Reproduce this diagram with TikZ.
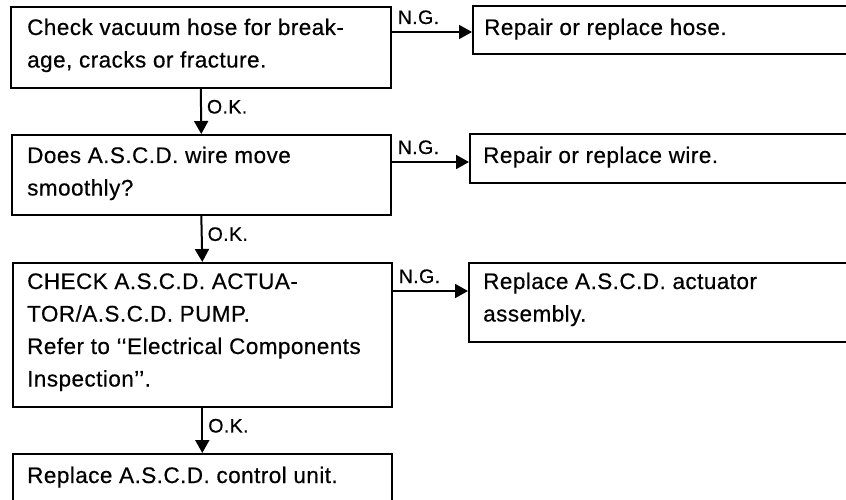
\documentclass[tikz,border=0pt]{standalone}
\usepackage{fontspec}
\setmainfont{Liberation Sans}[LetterSpace=2, FakeBold=0.5]
\usetikzlibrary{arrows.meta}
\newcommand{\bodyfont}{\fontsize{22.5}{32.5}\selectfont}
\newcommand{\lblfont}{\fontsize{19.5}{20}\selectfont}
\tikzset{
  box/.style={draw, line width=1.6pt, rectangle, inner sep=0pt, anchor=north west},
  txt/.style={anchor=base west, inner sep=0pt, font=\bodyfont},
  arr/.style={line width=2pt, -{Triangle[length=13pt,width=14pt]}},
  lbl/.style={font=\lblfont, inner sep=0pt}
}
\begin{document}
\begin{tikzpicture}[x=1pt,y=-1pt]
\useasboundingbox (0,0) rectangle (846,500);
\clip (0,0) rectangle (846,500);
% left column boxes
\node[box, minimum width=380pt, minimum height=81pt] (b1) at (10,6) {};
\node[box, minimum width=379pt, minimum height=80pt] (b2) at (11,134) {};
\node[box, minimum width=379pt, minimum height=144pt] (b3) at (12,262) {};
\node[box, minimum width=379pt, minimum height=70pt] (b4) at (12,453) {};
% right column boxes (run past the right edge)
\node[box, minimum width=420pt, minimum height=48pt] (r1) at (472,5) {};
\node[box, minimum width=420pt, minimum height=49pt] (r2) at (469,133) {};
\node[box, minimum width=420pt, minimum height=79pt] (r3) at (468,262) {};
% texts
\node[txt] (t1) at (27,35) {\parbox[t]{360pt}{Check vacuum hose for break-\\age, cracks or fracture.}};
\node[txt] (t2) at (27,163) {\parbox[t]{360pt}{Does A.S.C.D. wire move\\smoothly?}};
\node[txt] (t3) at (27,289) {\parbox[t]{370pt}{CHECK A.S.C.D. ACTUA-\\TOR/A.S.C.D. PUMP.\\Refer to ‘‘Electrical Components\\Inspection’’.}};
\node[txt] (t4) at (27,483) {Replace A.S.C.D. control unit.};
\node[txt] (u1) at (484,35) {Repair or replace hose.};
\node[txt] (u2) at (483,163) {Repair or replace wire.};
\node[txt] (u3) at (483,289) {\parbox[t]{360pt}{Replace A.S.C.D. actuator\\assembly.}};
% N.G. connectors
\coordinate (s1) at ([yshift=-26pt]b1.north east);
\coordinate (s2) at ([yshift=-28pt]b2.north east);
\coordinate (s3) at ([yshift=-29pt]b3.north east);
\draw[arr] (s1) -- (s1 -| r1.west);
\draw[arr] (s2) -- (s2 -| r2.west);
\draw[arr] (s3) -- (s3 -| r3.west);
\node[lbl, anchor=base west] (n1) at ([xshift=6pt,yshift=8pt]s1) {N.G.};
\node[lbl, anchor=base west] (n2) at ([xshift=6pt,yshift=8pt]s2) {N.G.};
\node[lbl, anchor=base west] (n3) at ([xshift=6pt,yshift=8pt]s3) {N.G.};
% O.K. connectors
\draw[arr] (b1.south) -- (b2.north) node[lbl, pos=0.4, anchor=west, xshift=5pt] (o1) {O.K.};
\draw[arr] (b2.south) -- (b3.north) node[lbl, pos=0.4, anchor=west, xshift=5pt] (o2) {O.K.};
\draw[arr] (b3.south) -- (b4.north) node[lbl, pos=0.4, anchor=west, xshift=5pt] (o3) {O.K.};
\end{tikzpicture}
\end{document}
